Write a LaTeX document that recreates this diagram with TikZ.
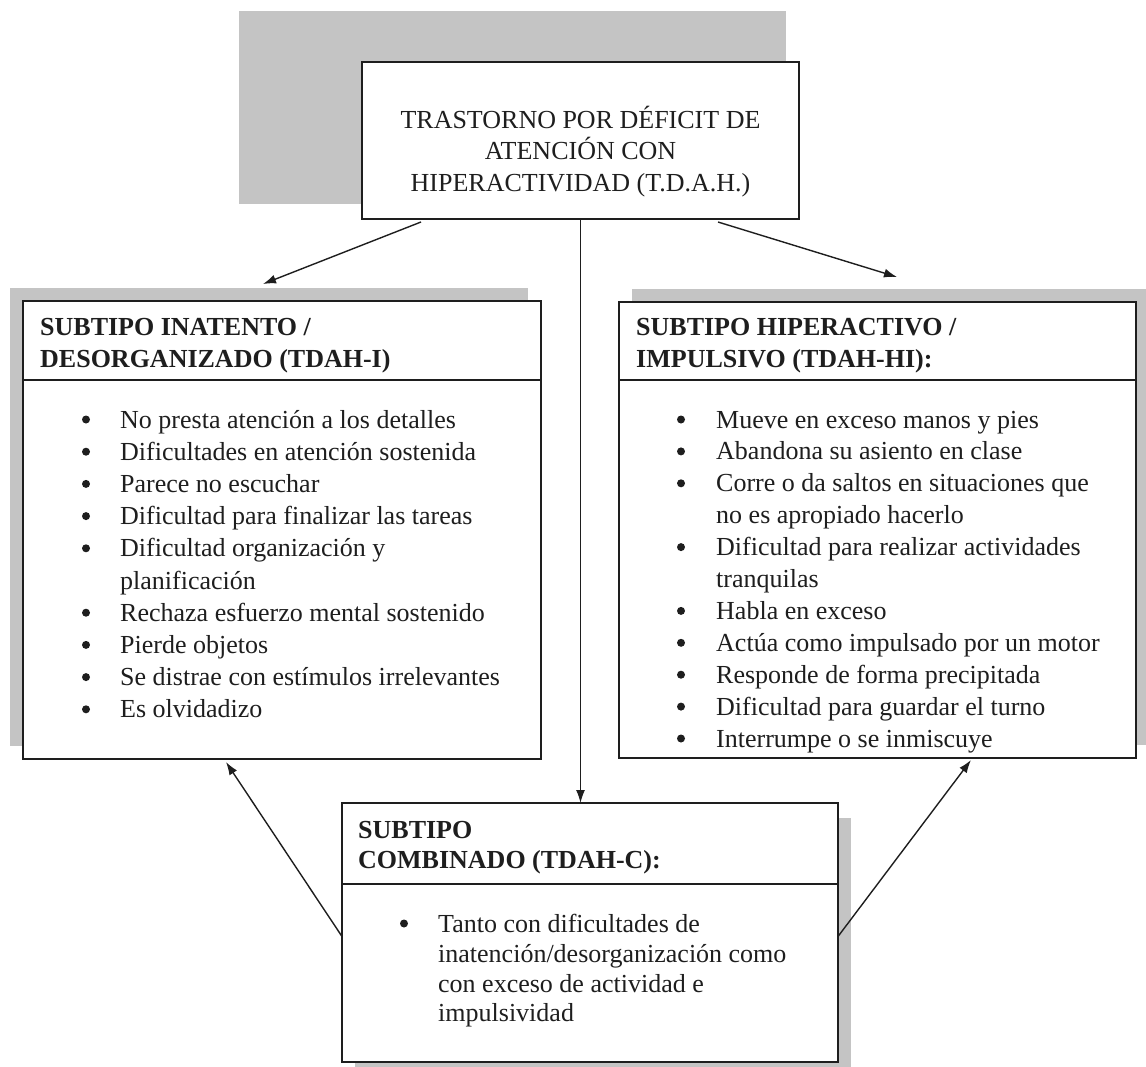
\documentclass[tikz,border=0pt]{standalone}
\usepackage{fontspec}
\setmainfont{Liberation Serif}
\usetikzlibrary{arrows.meta,calc}
\definecolor{shadowgray}{RGB}{196,196,196}
\definecolor{ink}{RGB}{30,30,30}
\begin{document}
\begin{tikzpicture}[x=1pt,y=-1pt,
  box/.style={draw=ink, line width=1.6pt, fill=white, inner sep=0pt, outer sep=0pt, anchor=north west},
  divider/.style={draw=ink, line width=1.6pt},
  backrect/.style={fill=shadowgray, draw=none},
  txt/.style={anchor=base west, inner sep=0pt, font=\fontsize{26}{32}\selectfont, text=ink},
  hdr/.style={anchor=base west, inner sep=0pt, font=\fontsize{26}{32}\selectfont\bfseries, text=ink},
  ttl/.style={anchor=base, inner sep=0pt, font=\fontsize{26}{32}\selectfont, text=ink},
  dot/.style={circle, fill=ink, draw=none, minimum size=8pt, inner sep=0pt},
  arr/.style={draw=ink, line width=1.4pt, -{Latex[length=13pt,width=9pt]}},
]
\useasboundingbox (0,0) rectangle (1146,1066);

% shadows
\path[backrect] (239,11) rectangle (786,204);
\path[backrect] (10,288) rectangle (528,746);
\path[backrect] (632,289) rectangle (1149,745);
\path[backrect] (355,818) rectangle (851,1077);

% boxes
\node[box, minimum width=437pt, minimum height=157pt] (top) at (362,62) {};
\node[box, minimum width=518pt, minimum height=458pt] (lft) at (23,301) {};
\node[box, minimum width=517pt, minimum height=456pt] (rgt) at (619,302) {};
\node[box, minimum width=496pt, minimum height=259pt] (bot) at (342,803) {};

% header dividers
\draw[divider] ($(lft.north west)+(0,79)$) -- ($(lft.north east)+(0,79)$);
\draw[divider] ($(rgt.north west)+(0,78)$) -- ($(rgt.north east)+(0,78)$);
\draw[divider] ($(bot.north west)+(0,81)$) -- ($(bot.north east)+(0,81)$);

% title
\node[ttl] (t1) at (580.5,128) {TRASTORNO POR DÉFICIT DE};
\node[ttl] (t2) at (580.5,159.5) {ATENCIÓN CON};
\node[ttl] (t3) at (580.5,191) {HIPERACTIVIDAD (T.D.A.H.)};

% headers
\node[hdr] (lh1) at (40,335) {SUBTIPO INATENTO /};
\node[hdr] (lh2) at (40,367) {DESORGANIZADO (TDAH-I)};
\node[hdr] (rh1) at (636,335) {SUBTIPO HIPERACTIVO /};
\node[hdr] (rh2) at (636,367) {IMPULSIVO (TDAH-HI):};
\node[hdr] (bh1) at (358,838) {SUBTIPO};
\node[hdr] (bh2) at (358,868) {COMBINADO (TDAH-C):};

% left list
\foreach \b/\t [count=\i from 0] in {
  1/No presta atención a los detalles,
  1/Dificultades en atención sostenida,
  1/Parece no escuchar,
  1/Dificultad para finalizar las tareas,
  1/Dificultad organización y,
  0/planificación,
  1/Rechaza esfuerzo mental sostenido,
  1/Pierde objetos,
  1/Se distrae con estímulos irrelevantes,
  1/Es olvidadizo}{
  \node[txt] (la\i) at (120,{428+32.2*\i}) {\t};
  \ifnum\b=1 \node[dot] (lb\i) at (86,{419.5+32.2*\i}) {};\fi
}

% right list
\foreach \b/\t [count=\i from 0] in {
  1/Mueve en exceso manos y pies,
  1/Abandona su asiento en clase,
  1/Corre o da saltos en situaciones que,
  0/no es apropiado hacerlo,
  1/Dificultad para realizar actividades,
  0/tranquilas,
  1/Habla en exceso,
  1/Actúa como impulsado por un motor,
  1/Responde de forma precipitada,
  1/Dificultad para guardar el turno,
  1/Interrumpe o se inmiscuye}{
  \node[txt] (ra\i) at (716,{428+31.9*\i}) {\t};
  \ifnum\b=1 \node[dot] (rb\i) at (681,{419.5+31.9*\i}) {};\fi
}

% bottom list
\node[dot] (bb0) at (404,923.5) {};
\node[txt] (ba0) at (438,932) {Tanto con dificultades de};
\node[txt] (ba1) at (438,962) {inatención/desorganización como};
\node[txt] (ba2) at (438,992) {con exceso de actividad e};
\node[txt] (ba3) at (438,1021) {impulsividad};

% connectors
\draw[arr] ($(top.south)+(-159.5,3)$) -- ($(lft.north)+(-19,-17)$);
\draw[arr] ($(top.south)+(137.5,3)$) -- ($(rgt.north)+(19.5,-25)$);
\draw[arr] (top.south) -- (top.south |- bot.north);
\draw[arr] ($(bot.west)+(0,4)$) -- ($(lft.south)+(-56,3)$);
\draw[arr] ($(bot.east)+(0,4)$) -- ($(rgt.south)+(93.5,2)$);
\end{tikzpicture}
\end{document}
